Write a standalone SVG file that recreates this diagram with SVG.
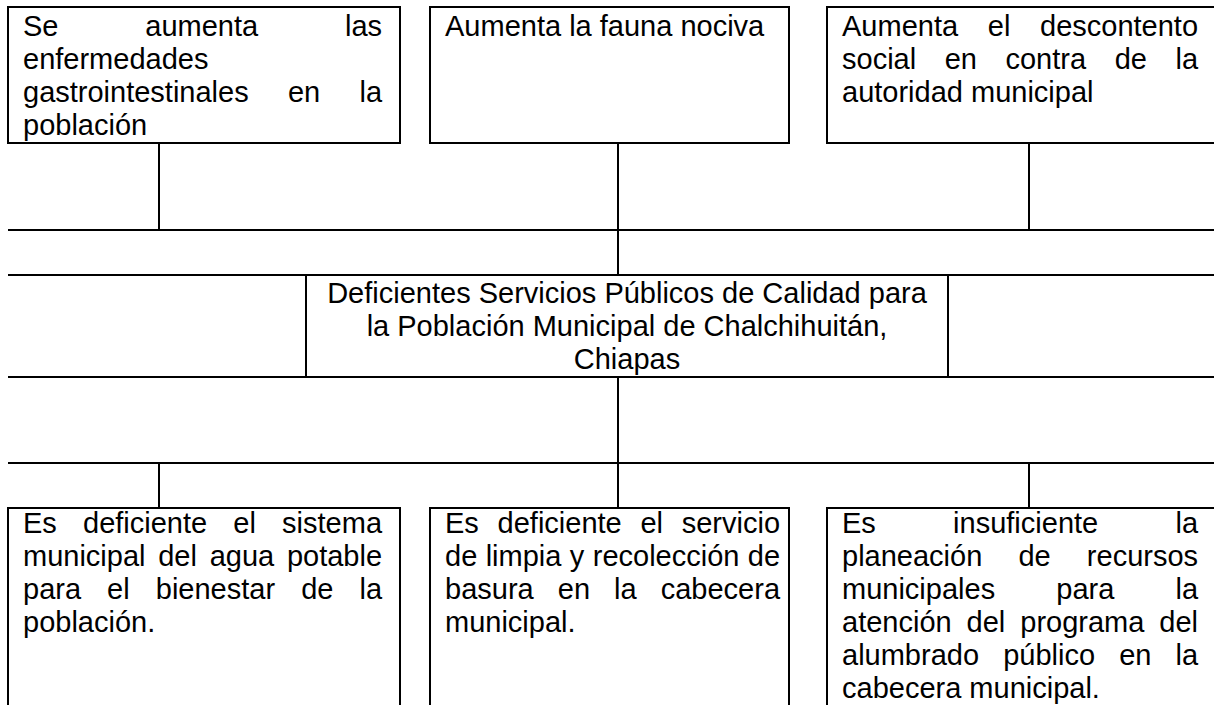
<svg xmlns="http://www.w3.org/2000/svg" width="1214" height="705" viewBox="0 0 1214 705">
<style>
.box{fill:#fff;stroke:#000;stroke-width:2}
.ln{stroke:#000;stroke-width:2;fill:none}
text{font-family:"Liberation Sans",Arial,sans-serif;font-size:29px;fill:#000;font-kerning:none}
.c{text-anchor:middle}
</style>
<rect width="1214" height="705" fill="#fff"/>
<g id="connectors">
<line class="ln" x1="159" y1="143" x2="159" y2="230"/>
<line class="ln" x1="618" y1="143" x2="618" y2="230"/>
<line class="ln" x1="1029" y1="143" x2="1029" y2="230"/>
<line class="ln" x1="8" y1="230" x2="1214" y2="230"/>
<line class="ln" x1="618" y1="230" x2="618" y2="275"/>
<line class="ln" x1="8" y1="275" x2="1214" y2="275"/>
<line class="ln" x1="8" y1="377" x2="1214" y2="377"/>
<line class="ln" x1="618" y1="377" x2="618" y2="463"/>
<line class="ln" x1="8" y1="463" x2="1214" y2="463"/>
<line class="ln" x1="159" y1="463" x2="159" y2="508"/>
<line class="ln" x1="618" y1="463" x2="618" y2="508"/>
<line class="ln" x1="1029" y1="463" x2="1029" y2="508"/>
</g>
<g id="n1">
<rect class="box" x="8" y="7" width="392" height="136"/>
<text x="23" y="36" word-spacing="78.75">Se aumenta las</text>
<text x="23" y="69">enfermedades</text>
<text x="23" y="102" word-spacing="31.21">gastrointestinales en la</text>
<text x="23" y="135">población</text>
</g>
<g id="n2">
<rect class="box" x="430" y="7" width="359" height="136"/>
<text x="445" y="36">Aumenta la fauna nociva</text>
</g>
<g id="n3">
<rect class="box" x="827" y="7" width="400" height="136"/>
<text x="842" y="36" word-spacing="21.63">Aumenta el descontento</text>
<text x="842" y="69" word-spacing="20.49">social en contra de la</text>
<text x="842" y="102">autoridad municipal</text>
</g>
<g id="center">
<line class="ln" x1="306" y1="275" x2="306" y2="377"/>
<line class="ln" x1="948" y1="275" x2="948" y2="377"/>
<text class="c" x="627" y="303">Deficientes Servicios Públicos de Calidad para</text>
<text class="c" x="627" y="336">la Población Municipal de Chalchihuitán,</text>
<text class="c" x="627" y="369">Chiapas</text>
</g>
<g id="n4">
<rect class="box" x="8" y="508" width="392" height="220"/>
<text x="23" y="533" word-spacing="18.13">Es deficiente el sistema</text>
<text x="23" y="566" word-spacing="4.68">municipal del agua potable</text>
<text x="23" y="599" word-spacing="18.02">para el bienestar de la</text>
<text x="23" y="632">población.</text>
</g>
<g id="n5">
<rect class="box" x="430" y="508" width="359" height="220"/>
<text x="445" y="533" word-spacing="10.67">Es deficiente el servicio</text>
<text x="445" y="566" word-spacing="0.35">de limpia y recolección de</text>
<text x="445" y="599" word-spacing="16.02">basura en la cabecera</text>
<text x="445" y="632">municipal.</text>
</g>
<g id="n6">
<rect class="box" x="827" y="508" width="400" height="220"/>
<text x="842" y="533" word-spacing="69.21">Es insuficiente la</text>
<text x="842" y="566" word-spacing="28.1">planeación de recursos</text>
<text x="842" y="599" word-spacing="53.1">municipales para la</text>
<text x="842" y="632" word-spacing="6.91">atención del programa del</text>
<text x="842" y="665" word-spacing="16.05">alumbrado público en la</text>
<text x="842" y="698">cabecera municipal.</text>
</g>
</svg>
